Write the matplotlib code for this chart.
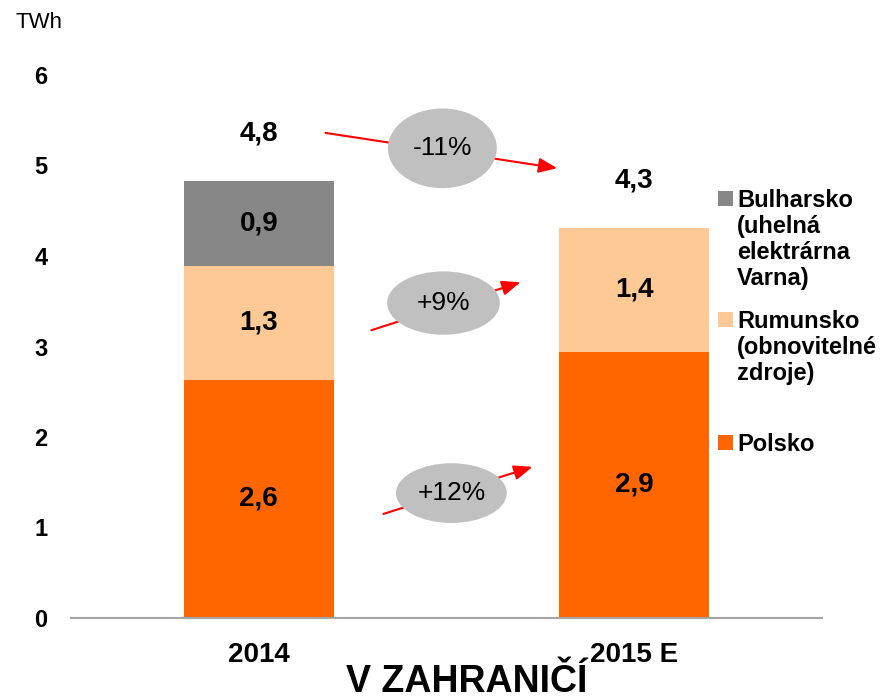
import matplotlib.pyplot as plt
from matplotlib.patches import Ellipse, Rectangle
import numpy as np

plt.rcParams['font.family'] = ['Liberation Sans', 'DejaVu Sans']

years = ["2014", "2015 E"]
series = ["Polsko", "Rumunsko\n(obnovitelné\nzdroje)", "Bulharsko\n(uhelná\nelektrárna\nVarna)"]
polsko = [2.63, 2.94]
rumunsko = [1.26, 1.37]
bulharsko = [0.94, 0.0]
colors = ["#FF6600", "#FFC995", "#878787"]
changes = ["-11%", "+9%", "+12%"]

def fmt(v):
    return ("%.1f" % v).replace(".", ",")

fig = plt.figure(figsize=(8.81, 6.99), dpi=100)
ax = fig.add_axes([71/881, 1 - 618/699, (822 - 71)/881, (618 - 75)/699])

x = np.arange(len(years))
bottom = np.zeros(len(years))
for vals, c in zip([polsko, rumunsko, bulharsko], colors):
    vals = np.array(vals)
    ax.bar(x, vals, 0.4, bottom=bottom, color=c, zorder=2)
    for xi, b, v in zip(x, bottom, vals):
        if v > 0:
            ax.text(xi, b + v / 2, fmt(v), ha='center', va='center',
                    fontsize=20, fontweight='bold')
    bottom += vals

# totals above bars
for xi, t in zip(x, bottom):
    ax.text(xi, t + 0.52, fmt(t), ha='center', va='center',
            fontsize=20, fontweight='bold')

ax.set_xlim(-0.5, 1.5)
ax.set_ylim(0, 6)
ax.set_xticks(x)
ax.set_xticklabels(years, fontsize=20, fontweight='bold')
ax.set_yticks(range(7))
ax.set_yticklabels([str(i) for i in range(7)], fontsize=17, fontweight='bold')
ax.tick_params(axis='y', length=0, pad=17)
ax.tick_params(axis='x', length=0, pad=17)
for s in ['top', 'right', 'left']:
    ax.spines[s].set_visible(False)
ax.spines['bottom'].set_color('#A6A6A6')
ax.spines['bottom'].set_linewidth(1.5)
ax.spines['bottom'].set_zorder(3)

# change arrows with grey ellipses
arrows = [((0.178, 5.36), (0.795, 4.97), (0.489, 5.19), 0.29, 0.88),
          ((0.30, 3.18), (0.697, 3.71), (0.492, 3.48), 0.30, 0.70),
          ((0.332, 1.15), (0.729, 1.67), (0.513, 1.38), 0.295, 0.66)]
for lab, (p0, p1, c, w, h) in zip(changes, arrows):
    ax.annotate("", xy=p1, xytext=p0,
                arrowprops=dict(arrowstyle='-|>,head_length=0.7,head_width=0.28',
                                color='#FF0000', lw=1.5,
                                mutation_scale=16, shrinkA=0, shrinkB=0),
                zorder=4)
    ax.add_patch(Ellipse(c, w, h, facecolor='#C0C0C0', edgecolor='none', zorder=5))
    ax.text(c[0], c[1], lab, ha='center', va='center', fontsize=19, zorder=6)

# legend drawn by hand
leg_tops = [191, 312, 435]
for lab, c, top in zip(series[::-1], colors[::-1], leg_tops):
    fig.patches.append(Rectangle((718/881, 1 - (top + 15)/699), 15/881, 15/699,
                                 transform=fig.transFigure, facecolor=c,
                                 edgecolor='none'))
    fig.text(737/881, 1 - (top - 2)/699, lab, ha='left', va='top',
             fontsize=17, fontweight='bold', linespacing=1.17)

fig.text(16/881, 1 - 22/699, "TWh", ha='left', va='center', fontsize=16)
fig.text(467/881, 1 - 692/699, "V ZAHRANIČÍ", ha='center', va='baseline',
         fontsize=27, fontweight='bold')

fig.savefig("out.png", dpi=100)
